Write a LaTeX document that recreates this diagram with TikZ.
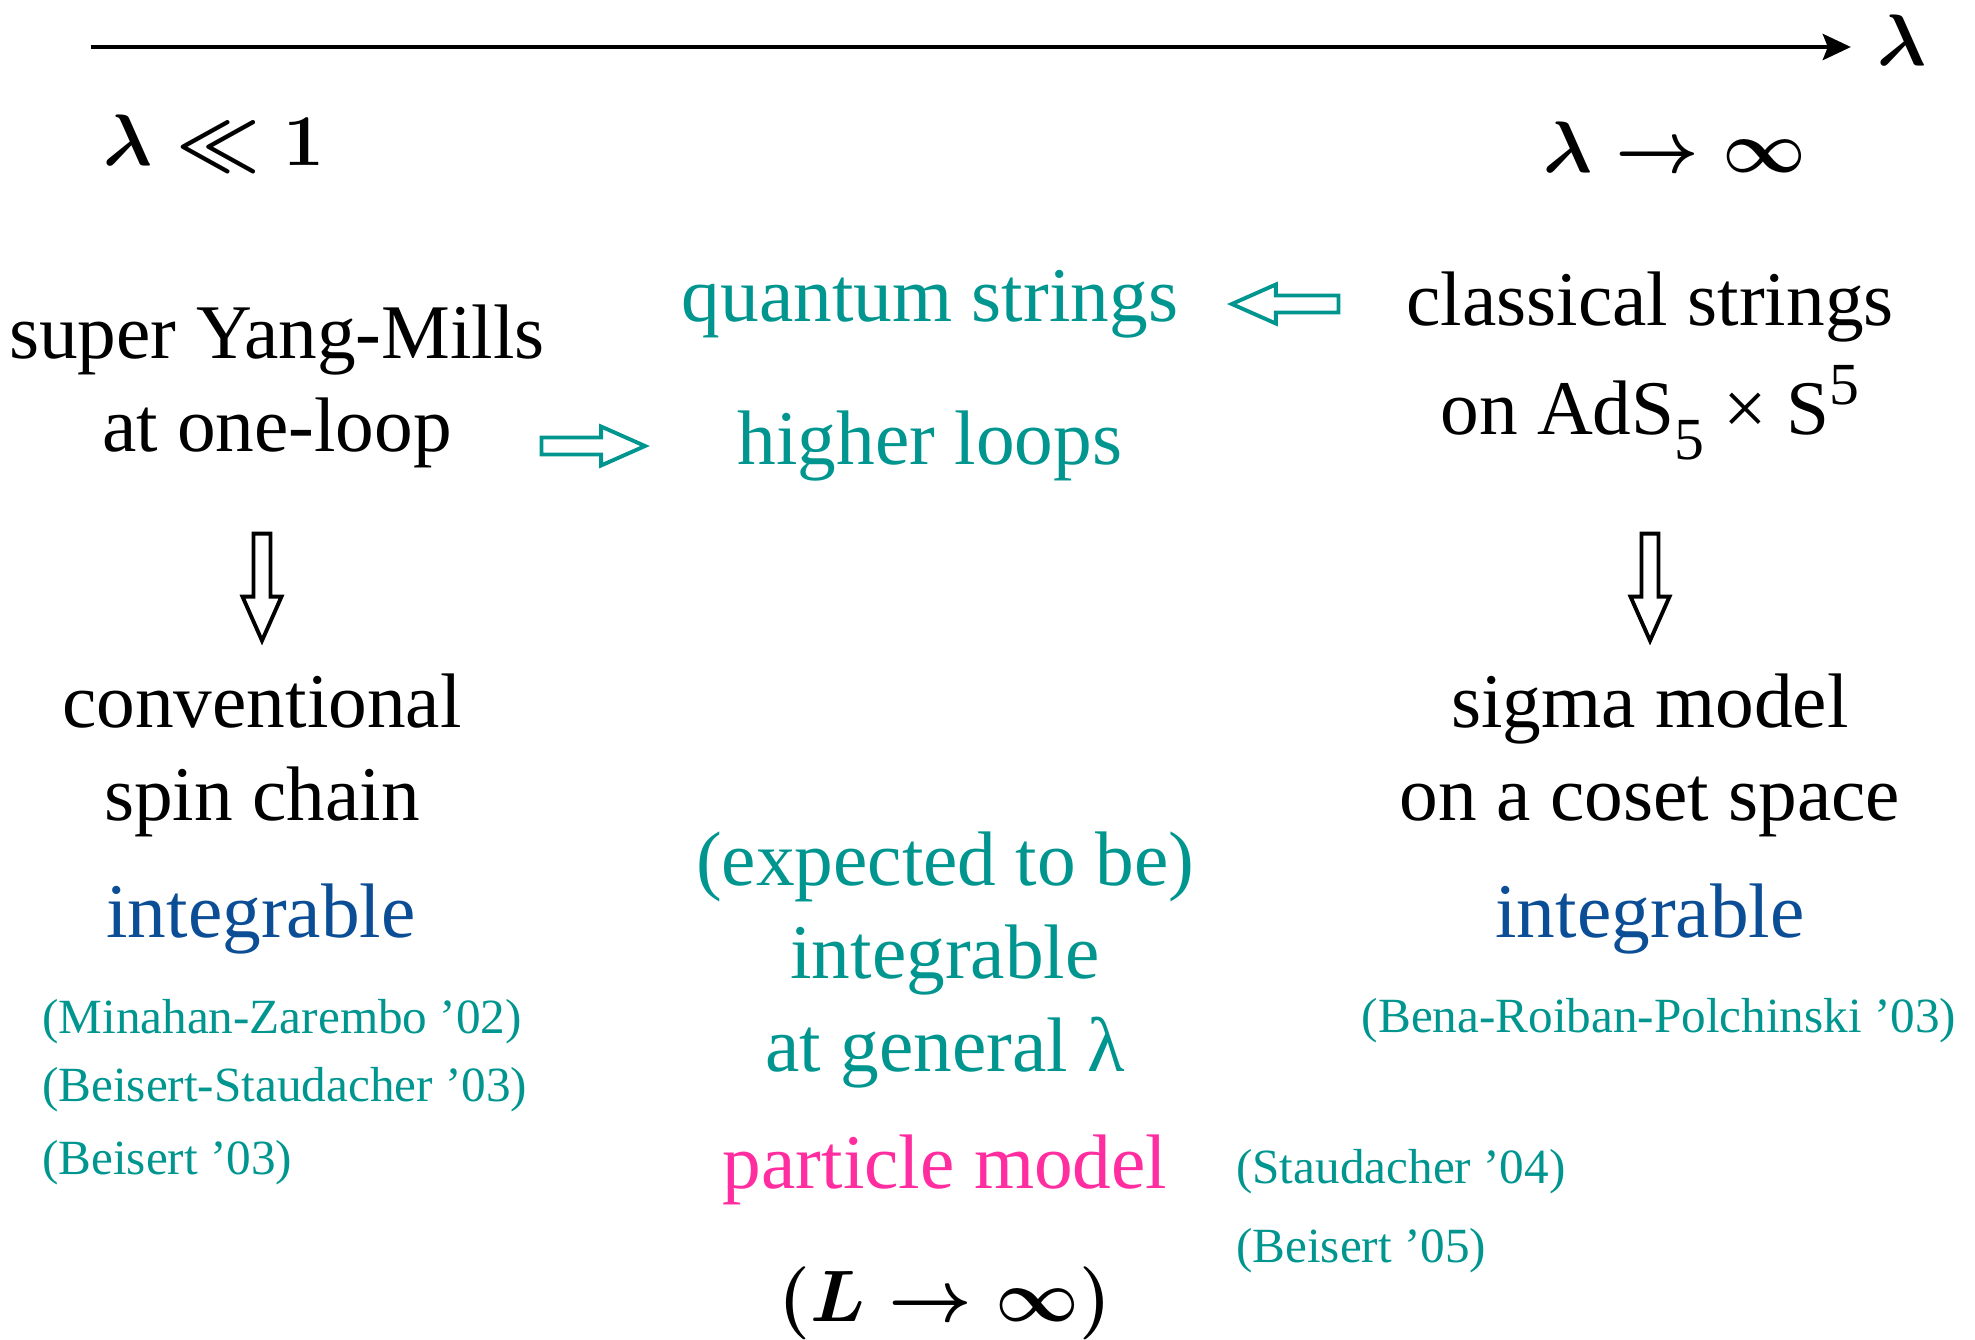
\documentclass[tikz,border=0pt]{standalone}
\usepackage{fontspec}
\setmainfont{Liberation Serif}
\usepackage{amsmath}
\usetikzlibrary{calc,arrows.meta}
\definecolor{qteal}{RGB}{0,150,143}
\definecolor{intblue}{RGB}{12,78,150}
\definecolor{pmpink}{RGB}{255,45,160}
\newcommand{\bigtxt}{\fontsize{22}{26.5}\selectfont}
\newcommand{\reftxt}{\fontsize{14}{17}\selectfont}
\newcommand{\idx}[2]{\raisebox{#1}{\fontsize{17}{17}\selectfont #2}}

\begin{document}
\begin{tikzpicture}[
  txt/.style={align=center, font=\bigtxt, inner sep=2pt},
  tealtxt/.style={txt, text=qteal},
  reflabel/.style={font=\reftxt, text=qteal, inner sep=1pt},
  fatarrow/.style={draw, line width=1.1pt, line join=miter, to path={
    let \p1=(\tikztostart), \p2=(\tikztotarget), \p3=($(\p2)!4.4mm!(\p1)$) in
    ($(\p1)!0.85mm!90:(\p2)$) -- ($(\p3)!0.85mm!90:(\p2)$) -- ($(\p3)!1.95mm!90:(\p2)$)
    -- (\p2) -- ($(\p3)!1.95mm!-90:(\p2)$) -- ($(\p3)!0.85mm!-90:(\p2)$)
    -- ($(\p1)!0.85mm!-90:(\p2)$) -- cycle}}
]
\useasboundingbox (0,0) rectangle (19.75,-13.39);

\coordinate (ax0) at (0.91,-0.47);
\node[font=\fontsize{22}{26}\selectfont\boldmath, inner sep=0pt] (lam) at (19.02,-0.40) {$\lambda$};
\draw[line width=1.3pt, -{Stealth[length=2.8mm,width=2.6mm,inset=0.5mm]}] (ax0) -- ([xshift=-2.6mm]lam.west |- ax0);

\node[font=\fontsize{21}{25}\selectfont\boldmath] (weak) at (2.14,-1.43) {$\lambda \ll 1$};
\node[font=\fontsize{21}{25}\selectfont\boldmath] (strong) at (16.75,-1.47) {$\lambda \to \infty$};

\node[txt] (sym) at (2.77,-3.86) {super Yang-Mills\\at one-loop};
\node[tealtxt] (qs) at (9.30,-3.04) {quantum strings};
\node[tealtxt] (hl) at (9.30,-4.46) {higher loops};
\node[txt] (cs) at (16.50,-3.66) {classical strings\\[4.5pt]on AdS\idx{-0.7ex}{5} × S\idx{0.85ex}{5}};

\draw[fatarrow, qteal] ([xshift=-1.1mm]sym.east |- hl.west) to ([xshift=-8.5mm]hl.west);
\draw[fatarrow, qteal] ([xshift=-6mm]cs.west |- qs.east) to ([xshift=4.6mm]qs.east);

\node[txt] (conv) at (2.62,-7.55) {conventional\\spin chain};
\node[txt] (sigma) at (16.50,-7.55) {sigma model\\on a coset space};
\draw[fatarrow] ([yshift=13.2mm]conv.north) to ([yshift=2.5mm]conv.north);
\draw[fatarrow] ([yshift=13.2mm]sigma.north) to ([yshift=2.5mm]sigma.north);

\node[txt, text=intblue] (intl) at (2.61,-9.19) {integrable};
\node[txt, text=intblue] (intr) at (16.50,-9.19) {integrable};

\node[reflabel, anchor=west] (mz) at (0.38,-10.22) {(Minahan-Zarembo ’02)};
\node[reflabel, anchor=west] (bs) at (0.38,-10.90) {(Beisert-Staudacher ’03)};
\node[reflabel, anchor=west] (b03) at (0.38,-11.63) {(Beisert ’03)};
\node[reflabel] (brp) at (16.59,-10.21) {(Bena-Roiban-Polchinski ’03)};

\node[tealtxt] (expint) at (9.45,-9.60) {(expected to be)\\integrable\\at general λ};
\node[txt, text=pmpink] (pm) at (9.45,-11.70) {particle model};
\node[font=\fontsize{22}{26}\selectfont\boldmath] (linf) at (9.45,-13.03) {$(L \to \infty)$};

\node[reflabel, anchor=west] (s04) at (12.32,-11.72) {(Staudacher ’04)};
\node[reflabel, anchor=west] (b05) at (12.32,-12.51) {(Beisert ’05)};
\end{tikzpicture}
\end{document}
